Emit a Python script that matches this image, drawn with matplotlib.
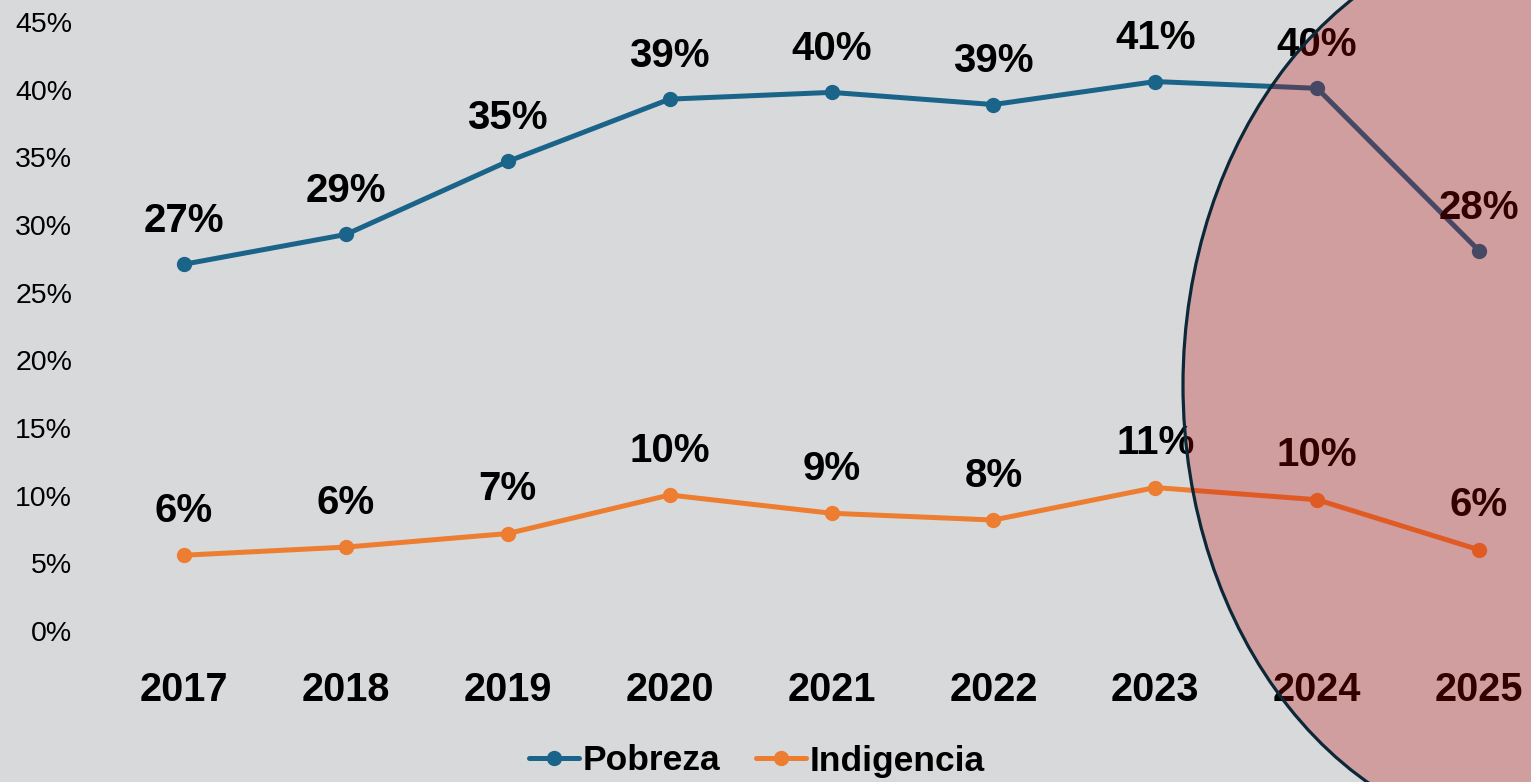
import matplotlib
matplotlib.use("Agg")
import matplotlib.pyplot as plt
from matplotlib.patches import Ellipse
from matplotlib.ticker import FixedLocator, FuncFormatter

years = ["2017", "2018", "2019", "2020", "2021", "2022", "2023", "2024", "2025"]
pobreza = [27.1, 29.3, 34.7, 39.3, 39.8, 38.9, 40.6, 40.1, 28.1]
indigencia = [5.6, 6.2, 7.2, 10.05, 8.7, 8.2, 10.6, 9.7, 6.0]
y_ticks = [0, 5, 10, 15, 20, 25, 30, 35, 40, 45]

W, H = 1531, 782
BG = "#d8d9db"
BLUE = "#1b6489"
ORANGE = "#ed7d31"

plt.rcParams["font.family"] = ["Liberation Sans", "DejaVu Sans"]

fig = plt.figure(figsize=(W / 100, H / 100), dpi=100, facecolor=BG)

left_px, right_px = 100, W
bot_px, top_px = H - 631, H
ax = fig.add_axes([left_px / W, bot_px / H, (right_px - left_px) / W, (top_px - bot_px) / H])
ax.set_facecolor(BG)
for s in ax.spines.values():
    s.set_visible(False)

x = list(range(len(years)))
ax.set_xlim(-0.519, 8.321)
px_per_pct = (631 - 22) / 45.0
ax.set_ylim(0, (top_px - bot_px) / px_per_pct)

ax.plot(x, pobreza, color=BLUE, lw=3.6, marker="o", ms=10, label="Pobreza", solid_capstyle="round", zorder=3)
ax.plot(x, indigencia, color=ORANGE, lw=3.6, marker="o", ms=10, label="Indigencia", solid_capstyle="round", zorder=3)

for xi, v in zip(x, pobreza):
    ax.annotate(f"{round(v)}%", (xi, v), xytext=(0, 31), textcoords="offset points",
                ha="center", va="center", fontsize=29, fontweight="bold", color="black", clip_on=False)
for xi, v in zip(x, indigencia):
    ax.annotate(f"{round(v)}%", (xi, v), xytext=(0, 32), textcoords="offset points",
                ha="center", va="center", fontsize=29, fontweight="bold", color="black", clip_on=False)

ax.yaxis.set_major_locator(FixedLocator(y_ticks))
ax.yaxis.set_major_formatter(FuncFormatter(lambda v, p: f"{int(v)}%"))
ax.set_xticks(x)
ax.set_xticklabels(years, fontsize=28.5, fontweight="bold")
ax.tick_params(axis="y", length=0, pad=20, labelsize=20.5)
ax.tick_params(axis="x", length=0, pad=29)

leg = fig.legend(loc="center", bbox_to_anchor=(757 / W, 1 - 761 / H), ncol=2, frameon=False,
                 prop={"size": 25.5, "weight": "bold"}, handlelength=1.4, handletextpad=0.12,
                 columnspacing=1.0, markerscale=1.0)

ov = fig.add_axes([0, 0, 1, 1], zorder=10)
ov.set_xlim(0, W)
ov.set_ylim(H, 0)
ov.axis("off")
ov.patch.set_alpha(0)
ov.add_patch(Ellipse((1543, 385), width=2 * 360, height=2 * 455, facecolor="#c00000", alpha=0.27,
                     edgecolor="none"))
ov.add_patch(Ellipse((1543, 385), width=2 * 360, height=2 * 455, facecolor="none",
                     edgecolor="#0b2838", lw=2.3))

fig.savefig("out.png", dpi=100, facecolor=BG)
